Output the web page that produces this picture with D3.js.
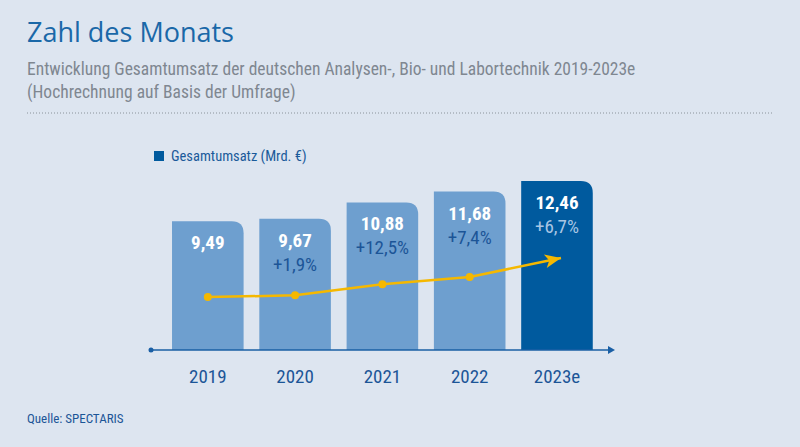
<!DOCTYPE html>
<html><head><meta charset="utf-8">
<script src="https://cdn.jsdelivr.net/npm/d3@7"></script>
<style>
body{margin:0;background:#dde5f0;}
text{font-family:"Liberation Sans Narrow","Roboto Condensed","Liberation Sans",sans-serif;}
</style></head><body>
<svg id="c" width="800" height="447"></svg>
<script>
const years = ["2019", "2020", "2021", "2022", "2023e"];
const values = [9.49, 9.67, 10.88, 11.68, 12.46];
const labels = ["9,49", "9,67", "10,88", "11,68", "12,46"];
const growth = ["", "+1,9%", "+12,5%", "+7,4%", "+6,7%"];

const svg = d3.select("#c");
svg.append("rect").attr("width", 800).attr("height", 447).attr("fill", "#dde5f0");

svg.append("text").attr("x", 27).attr("y", 42).attr("fill", "#1a68a8")
  .style("font-family", "'Open Sans',sans-serif").attr("font-size", 27).text("Zahl des Monats");
svg.append("text").attr("x", 27).attr("y", 75).attr("fill", "#7f8790").attr("font-size", 17.5)
  .text("Entwicklung Gesamtumsatz der deutschen Analysen-, Bio- und Labortechnik 2019-2023e");
svg.append("text").attr("x", 27).attr("y", 98).attr("fill", "#7f8790").attr("font-size", 17.5)
  .text("(Hochrechnung auf Basis der Umfrage)");
svg.append("line").attr("x1", 27).attr("x2", 773).attr("y1", 113).attr("y2", 113)
  .attr("stroke", "#8a929a").attr("stroke-dasharray", "1,2");

// legend
svg.append("rect").attr("x", 154).attr("y", 151).attr("width", 10).attr("height", 10).attr("fill", "#005a9e");
svg.append("text").attr("x", 171).attr("y", 161).attr("fill", "#1a5a9a").attr("font-size", 14.5).text("Gesamtumsatz (Mrd. €)");

const base = 350;
const x = d3.scaleBand().domain(years).range([163.3, 601.5]).paddingInner(0.18).paddingOuter(0.1);
const y = d3.scaleLinear().domain([0, 12.46]).range([base, 181]);
const yl = d3.scaleLinear().domain([9.49, 11.68]).range([297, 277]);
const r = 12;

years.forEach((yr, i) => {
  const x0 = x(yr), w = x.bandwidth(), t = y(values[i]);
  const last = i === years.length - 1;
  svg.append("path")
    .attr("d", `M${x0},${base}V${t}H${x0 + w - r}Q${x0 + w},${t} ${x0 + w},${t + r}V${base}Z`)
    .attr("fill", last ? "#005a9e" : "#6e9fcf");
  const cx = x0 + w / 2;
  svg.append("text").attr("x", cx).attr("y", t + 28).attr("text-anchor", "middle")
    .attr("fill", "#fff").attr("font-size", 19).attr("font-weight", "bold").text(labels[i]);
  if (growth[i]) svg.append("text").attr("x", cx).attr("y", t + 52).attr("text-anchor", "middle")
    .attr("fill", last ? "#a9c6e4" : "#1c5597").attr("font-size", 19).text(growth[i]);
  svg.append("text").attr("x", cx).attr("y", 383).attr("text-anchor", "middle")
    .attr("fill", "#1c5597").attr("font-size", 19).text(yr);
});

// axis
svg.append("line").attr("x1", 151).attr("x2", 610).attr("y1", base).attr("y2", base)
  .attr("stroke", "#1a5fa5").attr("stroke-width", 1.5);
svg.append("circle").attr("cx", 151).attr("cy", base).attr("r", 2.5).attr("fill", "#1a5fa5");
svg.append("path").attr("d", `M608,${base - 4}L615,${base}L608,${base + 4}Z`).attr("fill", "#1a5fa5");

// trend line
const pts = values.slice(0, 4).map((v, i) => [x(years[i]) + x.bandwidth() / 2, yl(v)]);
const tip = [x(years[4]) + x.bandwidth() / 2 + 4, 258];
svg.append("path").attr("d", d3.line()([...pts, tip])).attr("fill", "none")
  .attr("stroke", "#f5b800").attr("stroke-width", 2.5);
const a = Math.atan2(tip[1] - pts[3][1], tip[0] - pts[3][0]);
const hl = 16, hw = 7;
const bx = tip[0] - hl * Math.cos(a), by = tip[1] - hl * Math.sin(a);
svg.append("path").attr("d",
  `M${tip[0]},${tip[1]}L${bx + hw * Math.sin(a)},${by - hw * Math.cos(a)}L${bx + 4 * Math.cos(a)},${by + 4 * Math.sin(a)}L${bx - hw * Math.sin(a)},${by + hw * Math.cos(a)}Z`)
  .attr("fill", "#f5b800");
svg.selectAll("circle.pt").data(pts).enter().append("circle").attr("class", "pt")
  .attr("cx", d => d[0]).attr("cy", d => d[1]).attr("r", 4).attr("fill", "#f5b800");

svg.append("text").attr("x", 27).attr("y", 423).attr("fill", "#1c5597").attr("font-size", 13).text("Quelle: SPECTARIS");
</script></body></html>
